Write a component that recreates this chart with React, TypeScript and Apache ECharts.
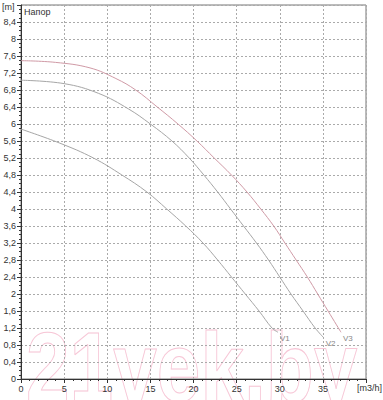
import React, { useEffect, useRef } from "react";
import * as echarts from "echarts";

const v1X = [0, 4.5, 8.4, 11.7, 14.6, 16.9, 19.1, 21.1, 22.8, 24.4, 26.0, 27.6, 29.1, 29.8];
const v1Y = [5.88, 5.55, 5.2, 4.8, 4.4, 4.0, 3.6, 3.2, 2.8, 2.4, 2.0, 1.6, 1.2, 1.1];

const v2X = [0, 5, 9, 12.5, 15, 17.5, 19.5, 21.2, 22.8, 24.3, 25.8, 27.3, 28.7, 30.0, 31.3, 32.7, 34.1, 35.1];
const v2Y = [7.03, 6.95, 6.72, 6.35, 6.0, 5.6, 5.2, 4.8, 4.4, 4.0, 3.6, 3.2, 2.8, 2.4, 2.0, 1.6, 1.2, 0.97];

const v3X = [0, 4, 8, 11, 13.3, 15.8, 18.2, 20.4, 22.4, 24.4, 26.2, 27.8, 29.3, 30.6, 31.9, 33.2, 34.4, 35.6, 37.1];
const v3Y = [7.49, 7.45, 7.32, 7.07, 6.8, 6.4, 6.0, 5.6, 5.2, 4.8, 4.4, 4.0, 3.6, 3.2, 2.8, 2.4, 2.0, 1.6, 1.1];

const seriesNames = ["V1", "V2", "V3"];
const seriesColors = ["#a6a6a6", "#a6a6a6", "#d09aa6"];

const zip = (xs: number[], ys: number[]) => xs.map((x, i) => [x, ys[i]]);

export default function App() {
  const ref = useRef<HTMLDivElement>(null);
  useEffect(() => {
    document.body.style.margin = "0";
    const chart = echarts.init(ref.current!, null, { renderer: "svg" });
    const font = "Liberation Sans, Arial, sans-serif";
    const data = [zip(v1X, v1Y), zip(v2X, v2Y), zip(v3X, v3Y)];
    chart.setOption({
      animation: false,
      backgroundColor: "#fff",
      grid: {
        left: 21,
        right: 17,
        top: 5,
        bottom: 21,
        show: true,
        borderColor: "#777",
        borderWidth: 1,
      },
      xAxis: {
        type: "value",
        min: 0,
        max: 40,
        interval: 5,
        axisLine: { show: true, onZero: false, lineStyle: { color: "#333" } },
        axisTick: { show: true, length: 4, lineStyle: { color: "#333" } },
        minorTick: { show: true, splitNumber: 5, length: 2, lineStyle: { color: "#333" } },
        axisLabel: {
          color: "#333",
          fontSize: 9,
          fontFamily: font,
          margin: 5,
          formatter: (v: number) => (v === 40 ? "" : String(v)),
        },
        splitLine: { show: true, lineStyle: { color: "#aaa", type: [2, 2] } },
      },
      yAxis: {
        type: "value",
        min: 0,
        max: 8.8,
        interval: 0.4,
        axisLine: { show: true, onZero: false, lineStyle: { color: "#333" } },
        axisTick: { show: true, length: 4, lineStyle: { color: "#333" } },
        minorTick: { show: true, splitNumber: 4, length: 2, lineStyle: { color: "#333" } },
        axisLabel: {
          color: "#333",
          fontSize: 9,
          fontFamily: font,
          margin: 5,
          formatter: (v: number) => {
            const r = Math.round(v * 10) / 10;
            if (r >= 8.8) return "";
            return String(r).replace(".", ",");
          },
        },
        splitLine: { show: true, lineStyle: { color: "#aaa", type: [2, 2] } },
      },
      graphic: [
        {
          type: "text",
          left: 2,
          top: 2,
          style: { text: "[m]", fill: "#333", font: `9px ${font}` },
        },
        {
          type: "text",
          left: 24,
          top: 7,
          style: { text: "Напор", fill: "#333", font: `9px ${font}` },
        },
        {
          type: "text",
          left: 357,
          top: 383,
          style: { text: "[m3/h]", fill: "#333", font: `9px ${font}` },
        },
        {
          type: "text",
          x: 26,
          y: 318,
          scaleX: 0.8,
          z: -10,
          silent: true,
          style: {
            text: "21vek.by",
            fill: "rgba(0,0,0,0)",
            stroke: "#f7c6d6",
            lineWidth: 1,
            font: `bold 98px ${font}`,
            verticalAlign: "top",
          },
        },
      ],
      series: data.map((d, i) => ({
        type: "line",
        name: seriesNames[i],
        data: d,
        smooth: 0.4,
        symbol: "none",
        lineStyle: { color: seriesColors[i], width: 1 },
        endLabel: {
          show: true,
          formatter: seriesNames[i],
          color: "#888",
          fontSize: 8,
          fontFamily: font,
          offset: [0, 6],
          distance: 2,
        },
      })),
    });
    return () => chart.dispose();
  }, []);
  return <div ref={ref} style={{ width: 383, height: 400 }} />;
}
